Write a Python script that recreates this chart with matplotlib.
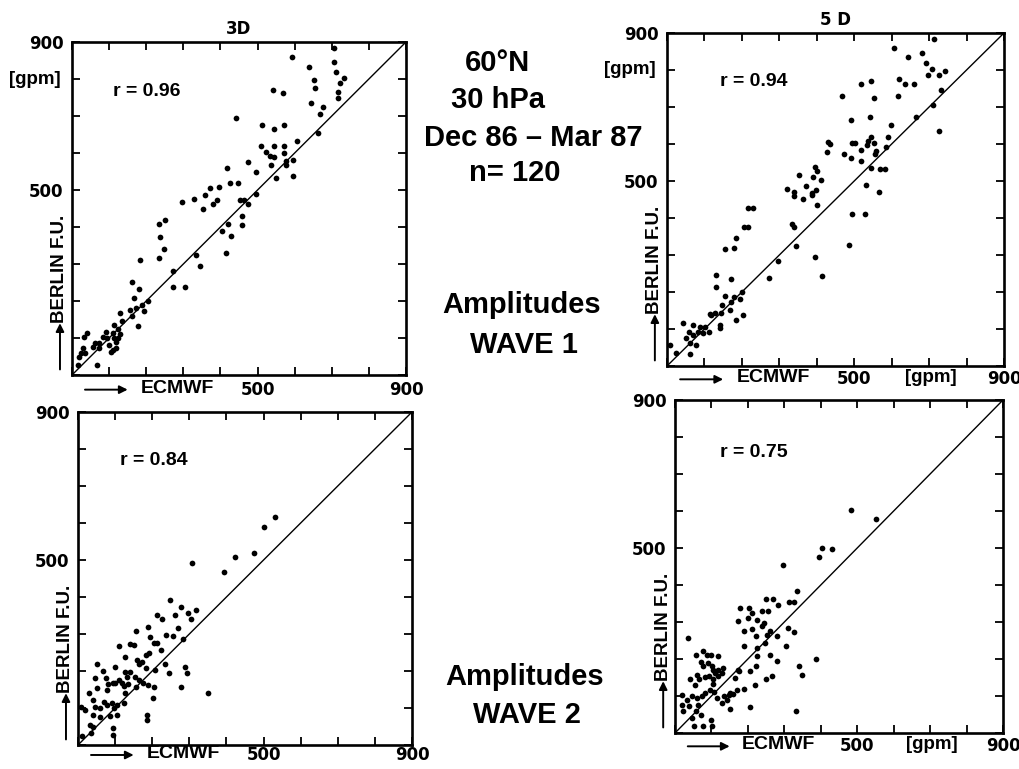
import matplotlib
matplotlib.use("Agg")
import matplotlib.pyplot as plt
import matplotlib.transforms as mtransforms

plt.rcParams['font.family'] = ['Liberation Sans', 'DejaVu Sans']
plt.rcParams['font.weight'] = 'bold'

# ---------------- data ----------------
ticks = [0, 100, 200, 300, 400, 500, 600, 700, 800, 900]
tick_labels = ['', '', '', '', '', '500', '', '', '', '900']

titles = ['3D', '5 D', '', '']
r_labels = ['r = 0.96', 'r = 0.94', 'r = 0.84', 'r = 0.75']

p1_x = [707, 592, 639, 705, 712, 734, 721, 651, 656, 542, 568, 716, 718, 643, 676, 667, 441, 664,
        512, 545, 572, 607, 510, 524, 544, 572, 533, 544, 572, 577, 596, 577, 537, 551, 595, 474,
        495, 417, 425, 448, 495, 371, 396, 297, 330, 359, 352, 380, 391, 452, 464, 475, 457, 457,
        405, 421, 428, 414, 234, 251, 236, 248, 234, 182, 333, 345, 272, 272, 304, 161, 180, 166,
        155, 173, 189, 205, 193, 162, 178, 128, 135, 114, 124, 110, 114, 124, 110, 119, 92, 94,
        83, 74, 74, 61, 56, 68, 40, 33, 29, 24, 20, 16, 36, 100, 118, 128, 105]
p1_y = [883, 859, 833, 845, 818, 804, 788, 797, 777, 770, 761, 766, 748, 734, 723, 705, 694, 653,
        676, 665, 676, 632, 619, 604, 620, 619, 592, 590, 601, 578, 581, 568, 568, 532, 538, 575,
        549, 559, 518, 518, 489, 505, 507, 468, 475, 486, 448, 462, 473, 473, 473, 462, 430, 405,
        389, 408, 377, 329, 408, 419, 374, 340, 315, 311, 323, 295, 282, 239, 239, 252, 232, 207,
        177, 180, 189, 200, 172, 159, 133, 168, 147, 135, 123, 113, 99, 99, 68, 72, 117, 99,
        104, 86, 72, 87, 77, 27, 113, 102, 72, 59, 50, 27, 59, 80, 88, 110, 62]

p2_x = [712, 606, 682, 644, 691, 709, 697, 742, 726, 619, 635, 660, 544, 517, 733, 467, 553, 617,
        710, 664, 541, 492, 598, 727, 590, 546, 430, 436, 494, 503, 537, 553, 534, 586, 517, 428,
        473, 491, 555, 557, 517, 546, 570, 582, 395, 401, 390, 412, 353, 321, 338, 338, 370, 363,
        386, 399, 388, 401, 531, 566, 334, 338, 344, 395, 415, 495, 528, 485, 297, 272, 216, 230,
        205, 216, 183, 154, 178, 132, 132, 172, 155, 178, 172, 196, 200, 203, 183, 167, 147, 145,
        127, 118, 141, 141, 114, 111, 96, 101, 87, 69, 43, 58, 52, 61, 78, 61, 25, 7, 69, 83]
p2_y = [884, 859, 846, 835, 819, 803, 787, 796, 787, 777, 763, 763, 771, 763, 747, 730, 723, 729,
        705, 674, 673, 664, 652, 635, 619, 620, 605, 600, 604, 604, 607, 604, 597, 591, 584, 578,
        573, 562, 573, 582, 555, 535, 533, 533, 537, 526, 510, 503, 515, 478, 471, 460, 487, 451,
        467, 476, 463, 434, 488, 469, 383, 377, 325, 295, 243, 411, 411, 327, 284, 237, 426, 426,
        377, 377, 345, 316, 318, 246, 213, 234, 189, 187, 174, 181, 201, 138, 124, 151, 165, 142,
        142, 138, 111, 102, 140, 93, 88, 106, 106, 111, 115, 93, 75, 63, 57, 32, 34, 57, 84, 93]

p3_x = [532, 500, 423, 475, 394, 307, 247, 277, 214, 227, 261, 297, 318, 305, 189, 270, 156, 236,
        255, 282, 111, 141, 150, 195, 205, 214, 223, 191, 182, 127, 159, 173, 164, 235, 289, 245,
        293, 207, 182, 100, 50, 68, 127, 141, 132, 111, 95, 80, 118, 136, 153, 164, 175, 155,
        123, 47, 75, 52, 77, 100, 189, 205, 203, 277, 350, 125, 127, 29, 41, 45, 71, 77, 91,
        97, 105, 86, 59, 41, 7, 20, 32, 41, 35, 11, 93, 93, 185, 185, 105, 59]
p3_y = [617, 590, 507, 518, 468, 493, 392, 374, 351, 340, 351, 358, 365, 340, 320, 315, 308, 297,
        295, 286, 268, 274, 270, 291, 277, 277, 257, 250, 243, 237, 230, 225, 218, 218, 212, 194,
        194, 203, 207, 210, 218, 201, 198, 196, 185, 176, 168, 164, 167, 164, 185, 176, 168, 158,
        159, 182, 180, 153, 149, 167, 162, 158, 128, 158, 141, 114, 140, 140, 122, 104, 117, 108,
        113, 99, 81, 78, 77, 81, 104, 95, 54, 50, 32, 24, 45, 27, 81, 68, 108, 99]

p4_x = [483, 551, 396, 402, 432, 295, 335, 249, 270, 283, 313, 326, 178, 203, 238, 254, 173, 201,
        212, 224, 238, 188, 210, 221, 260, 253, 311, 326, 304, 388, 190, 224, 226, 222, 260, 281,
        265, 251, 341, 349, 332, 207, 219, 207, 176, 166, 188, 169, 151, 151, 35, 58, 78, 87,
        98, 119, 71, 78, 91, 101, 105, 119, 133, 128, 110, 119, 93, 82, 61, 67, 41, 55, 105,
        105, 96, 107, 114, 134, 144, 130, 149, 82, 73, 61, 46, 32, 20, 18, 23, 39, 62, 58,
        46, 52, 71, 78, 98, 102, 160, 172, 247, 245, 279]
p4_y = [603, 578, 477, 499, 497, 455, 385, 362, 362, 347, 353, 353, 339, 339, 330, 330, 302, 311,
        324, 306, 288, 275, 281, 263, 275, 266, 285, 273, 234, 200, 236, 230, 207, 180, 210, 194,
        153, 146, 182, 158, 59, 167, 131, 70, 167, 149, 119, 117, 108, 65, 257, 210, 221, 212,
        212, 207, 191, 180, 189, 180, 171, 171, 176, 162, 162, 155, 153, 151, 158, 146, 146, 131,
        146, 132, 117, 110, 95, 99, 90, 81, 104, 108, 99, 95, 99, 90, 104, 77, 59, 72, 77, 59,
        41, 18, 50, 20, 34, 18, 106, 169, 243, 297, 261]

xs = [p1_x, p2_x, p3_x, p4_x]
ys = [p1_y, p2_y, p3_y, p4_y]
r_pos = [(110, 765), (142, 768), (113, 768), (123, 757)]
gpm_y = [True, True, False, False]
gpm_x = [False, True, False, True]

# ---------------- layout ----------------
W, H = 1020, 769
fig = plt.figure(figsize=(W / 100, H / 100), dpi=100)
fig.patch.set_facecolor('white')

NUMFONT = 'DejaVu Sans'

boxes = [(72, 42, 334, 333), (667, 33, 337, 333), (78, 412, 334, 333), (675, 400, 328, 333)]
xpads = [4, 3, 1.0, 3]
xlab_off = [-0.040, -0.036, -0.026, -0.036]
axes = []
for (l, t, w, h) in boxes:
    axes.append(fig.add_axes([l / W, 1 - (t + h) / H, w / W, h / H]))

for i, ax in enumerate(axes):
    ax.scatter(xs[i], ys[i], s=17, color='black', linewidths=0, zorder=3)
    ax.plot([0, 900], [0, 900], color='black', lw=1.0, zorder=2)
    ax.set_xlim(0, 900)
    ax.set_ylim(0, 900)
    ax.set_xticks(ticks)
    ax.set_yticks(ticks)
    ax.set_xticklabels(tick_labels)
    ax.set_yticklabels(tick_labels)
    ax.tick_params(direction='in', top=True, right=True, length=6, width=1.3,
                   labelsize=12)
    ax.tick_params(axis='x', pad=xpads[i])
    ax.tick_params(axis='y', pad=6)
    for lab in ax.get_xticklabels() + ax.get_yticklabels():
        lab.set_fontweight('bold')
        lab.set_fontfamily(NUMFONT)
    for sp in ax.spines.values():
        sp.set_linewidth(1.9)
    if titles[i]:
        ax.set_title(titles[i], fontsize=12, fontweight='bold', pad=6, family=NUMFONT)
    ax.text(r_pos[i][0], r_pos[i][1], r_labels[i], fontsize=14, fontweight='bold',
            ha='left', va='center')

    bx = mtransforms.blended_transform_factory(ax.transData, ax.transAxes)
    by = mtransforms.blended_transform_factory(ax.transAxes, ax.transData)
    yo = xlab_off[i]
    # x label with arrow
    ax.text(285, yo, 'ECMWF', transform=bx, ha='center', va='center',
            fontsize=14, fontweight='bold')
    ax.annotate('', xy=(150, yo - 0.004), xycoords=bx, xytext=(35, yo - 0.004), textcoords=bx,
                arrowprops=dict(arrowstyle='-|>', lw=1.4, color='black',
                                mutation_scale=12, shrinkA=0, shrinkB=0),
                annotation_clip=False)
    # y label with arrow
    ax.text(-0.036, 288, 'BERLIN F.U.', transform=by, ha='center', va='center',
            rotation=90, fontsize=13.5, fontweight='bold')
    ax.annotate('', xy=(-0.036, 140), xycoords=by, xytext=(-0.036, 15), textcoords=by,
                arrowprops=dict(arrowstyle='-|>', lw=1.4, color='black',
                                mutation_scale=12, shrinkA=0, shrinkB=0),
                annotation_clip=False)
    if gpm_y[i]:
        ax.text(-0.035, 800, '[gpm]', transform=by, ha='right', va='center',
                fontsize=13.5, fontweight='bold')
    if gpm_x[i]:
        ax.text(705, yo, '[gpm]', transform=bx, ha='center', va='center',
                fontsize=13.5, fontweight='bold')

# ---------------- centre texts ----------------
def ftext(x, y, s, size=21):
    fig.text(x / W, 1 - y / H, s, ha='center', va='center', fontsize=size,
             fontweight='bold')

ftext(498, 63, '60°N')
ftext(498, 100, '30 hPa')
ftext(533, 138, 'Dec 86 – Mar 87')
ftext(515, 173, 'n= 120')
ftext(522, 305, 'Amplitudes')
ftext(524, 345, 'WAVE 1')
ftext(525, 677, 'Amplitudes')
ftext(527, 715, 'WAVE 2')

fig.savefig('out.png', dpi=100, facecolor='white')
